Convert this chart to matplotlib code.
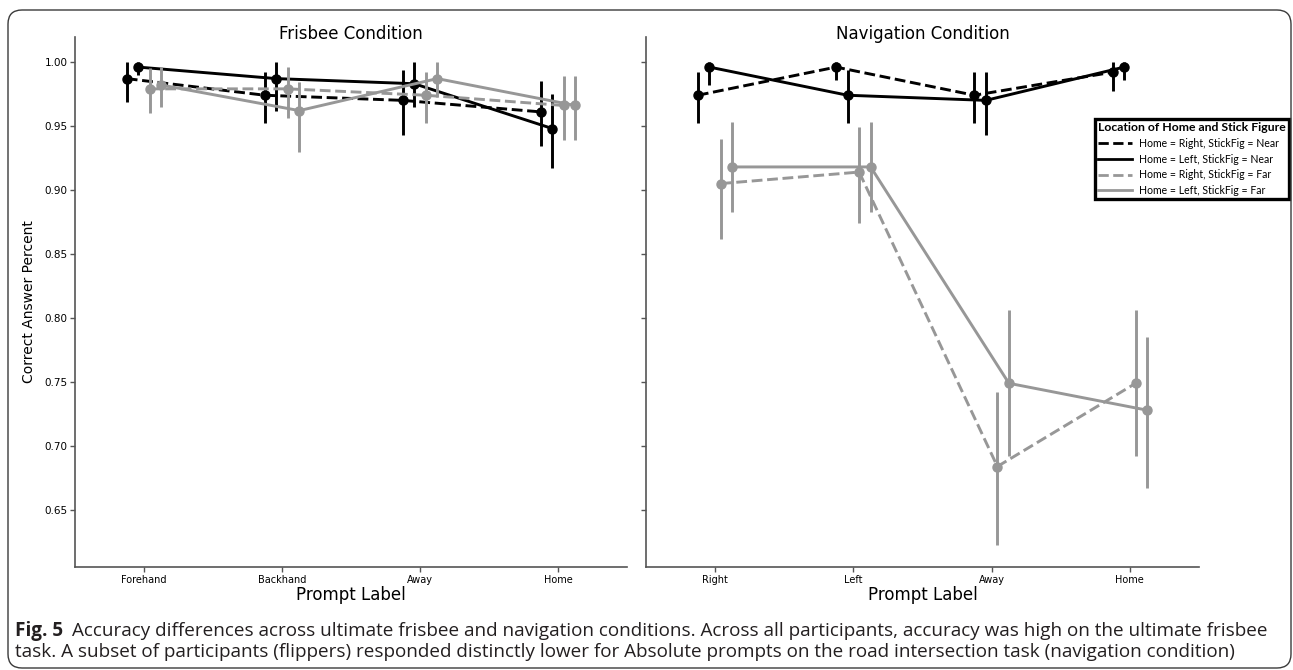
import numpy as np
import matplotlib
matplotlib.use('Agg')
import matplotlib.pyplot as plt
from matplotlib.lines import Line2D
from matplotlib.patches import FancyBboxPatch
from matplotlib.transforms import IdentityTransform

# ---- data ----
frisbee_labels = ['Forehand', 'Backhand', 'Away', 'Home']
navigation_labels = ['Right', 'Left', 'Away', 'Home']
series_names = ['Home = Right, StickFig = Near',
                'Home = Left, StickFig = Near',
                'Home = Right, StickFig = Far',
                'Home = Left, StickFig = Far']

# one row per series (same order as series_names), one column per prompt label
frisbee_mean = [[0.987, 0.974, 0.970, 0.961],
                [0.996, 0.987, 0.983, 0.948],
                [0.979, 0.979, 0.974, 0.966],
                [0.982, 0.962, 0.987, 0.966]]
frisbee_low = [[0.969, 0.952, 0.943, 0.934],
               [0.990, 0.962, 0.965, 0.917],
               [0.960, 0.956, 0.952, 0.939],
               [0.965, 0.930, 0.973, 0.939]]
frisbee_high = [[1.000, 0.992, 0.994, 0.985],
                [1.000, 1.000, 1.000, 0.975],
                [0.995, 0.996, 0.992, 0.989],
                [0.996, 0.984, 1.000, 0.989]]

navigation_mean = [[0.974, 0.996, 0.974, 0.992],
                   [0.996, 0.974, 0.970, 0.996],
                   [0.905, 0.914, 0.684, 0.749],
                   [0.918, 0.918, 0.749, 0.728]]
navigation_low = [[0.952, 0.986, 0.952, 0.977],
                  [0.982, 0.952, 0.943, 0.986],
                  [0.862, 0.874, 0.623, 0.692],
                  [0.883, 0.883, 0.692, 0.667]]
navigation_high = [[0.992, 1.000, 0.992, 1.000],
                   [1.000, 0.994, 0.992, 1.000],
                   [0.940, 0.949, 0.742, 0.806],
                   [0.953, 0.953, 0.806, 0.785]]

caption_bold = 'Fig. 5'
caption_line1 = ('Accuracy differences across ultimate frisbee and navigation conditions. '
                 'Across all participants, accuracy was high on the ultimate frisbee')
caption_line2 = ('task. A subset of participants (flippers) responded distinctly lower for '
                 'Absolute prompts on the road intersection task (navigation condition)')

# ---- styling ----
GREY = '#979797'
colors = ['black', 'black', GREY, GREY]
linestyles = ['--', '-', '--', '-']
offsets = np.linspace(-0.125, 0.125, 4)
SPINE = '#555555'

W, H = 1293, 670
fig = plt.figure(figsize=(W / 100, H / 100), dpi=100)

ax_bottom = 1 - 567 / H
ax_height = (567 - 37) / H
ax1 = fig.add_axes([75 / W, ax_bottom, 552 / W, ax_height])
ax2 = fig.add_axes([646 / W, ax_bottom, 553 / W, ax_height], sharey=ax1)


def draw_panel(ax, means, lows, highs, labels, title):
    x = np.arange(len(labels))
    for i in range(len(means)):
        xi = x + offsets[i]
        ax.vlines(xi, lows[i], highs[i], color=colors[i], lw=2.1, zorder=2 + i)
        ax.plot(xi, means[i], color=colors[i], ls=linestyles[i], lw=2.1,
                marker='o', ms=6.5, zorder=2 + i)
    ax.set_xticks(x)
    ax.set_xticklabels(labels, fontsize=7)
    ax.set_xlim(-0.5, len(labels) - 0.5)
    ax.set_xlabel('Prompt Label', fontsize=12, labelpad=1)
    for s in ['top', 'right']:
        ax.spines[s].set_visible(False)
    for s in ['left', 'bottom']:
        ax.spines[s].set_color(SPINE)
        ax.spines[s].set_linewidth(1.2)
    ax.tick_params(length=3.5, width=1, color=SPINE, pad=2)
    cx = (ax.get_position().x0 + ax.get_position().x1) / 2
    fig.text(cx, 1 - 34 / H, title, ha='center', va='center', fontsize=12)


draw_panel(ax1, frisbee_mean, frisbee_low, frisbee_high, frisbee_labels,
           'Frisbee Condition')
draw_panel(ax2, navigation_mean, navigation_low, navigation_high,
           navigation_labels, 'Navigation Condition')

ax1.set_ylim(0.6055, 1.0195)
ax1.set_yticks(np.arange(0.65, 1.001, 0.05))
ax1.set_yticklabels([f'{v:.2f}' for v in np.arange(0.65, 1.001, 0.05)], fontsize=7.5)
ax1.set_ylabel('Correct Answer Percent', fontsize=10, labelpad=6)
ax2.tick_params(labelleft=False)

# legend (lines only, placed over the right edge of the figure)
handles = [Line2D([], [], color=colors[i], ls=linestyles[i], lw=2.0)
           for i in range(len(series_names))]
leg = ax2.legend(handles, series_names, title='Location of Home and Stick Figure',
                 loc='upper right', bbox_to_anchor=(1289 / W, 1 - 119 / H),
                 bbox_transform=fig.transFigure, fancybox=False, edgecolor='black',
                 framealpha=1, prop={'family': ['Lato', 'DejaVu Sans'], 'size': 7.6},
                 title_fontproperties={'family': ['Lato', 'DejaVu Sans'],
                                       'size': 8.8, 'weight': 'bold'},
                 handlelength=3.2, handletextpad=0.7, borderpad=0.3,
                 labelspacing=0.45, alignment='left', borderaxespad=0)
leg.get_frame().set_linewidth(2.4)

# caption
cap_font = ['Liberation Sans Narrow', 'Open Sans', 'DejaVu Sans']
fig.canvas.draw()
renderer = fig.canvas.get_renderer()
t_bold = fig.text(15 / W, 1 - 631 / H, caption_bold, ha='left', va='center',
                  fontsize=11, fontweight='bold', family=cap_font, color='#231f20')
bb = t_bold.get_window_extent(renderer)
t1 = fig.text((bb.x1 + 9) / W, 1 - 631 / H, caption_line1, ha='left', va='center',
              fontsize=11, family=cap_font, color='#231f20')
# fit the first caption line to the width seen in the reference
w1 = t1.get_window_extent(renderer).x1
size = 11 * (1272 - bb.x0) / (w1 - bb.x0)
t_bold.set_fontsize(size)
bb = t_bold.get_window_extent(renderer)
t1.set_fontsize(size)
t1.set_x((bb.x1 + 9) / W)
fig.text(15 / W, 1 - 652 / H, caption_line2, ha='left', va='center',
         fontsize=size, family=cap_font, color='#231f20')

# rounded outer frame
frame = FancyBboxPatch((8, 2), 1283, 658, boxstyle='round,pad=0,rounding_size=14',
                       transform=IdentityTransform(), fill=False,
                       edgecolor='#3a3a3a', lw=1.0)
fig.patches.append(frame)

fig.savefig('out.png', dpi=100)
